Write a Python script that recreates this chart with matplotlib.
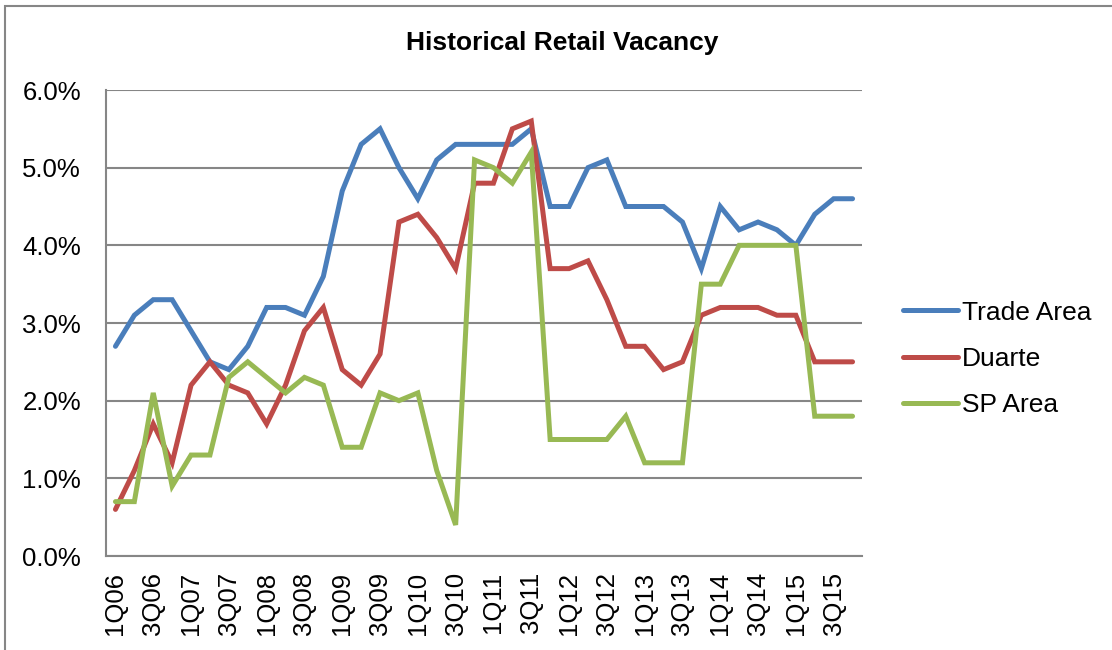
import matplotlib
matplotlib.use("Agg")
import matplotlib.pyplot as plt
from matplotlib.patches import Rectangle
from matplotlib.ticker import FuncFormatter

plt.rcParams['font.family'] = ['Liberation Sans', 'DejaVu Sans']

quarters = [f"{q}Q{y:02d}" for y in range(6, 16) for q in range(1, 5)]

trade_area = [2.7, 3.1, 3.3, 3.3, 2.9, 2.5, 2.4, 2.7, 3.2, 3.2,
              3.1, 3.6, 4.7, 5.3, 5.5, 5.0, 4.6, 5.1, 5.3, 5.3,
              5.3, 5.3, 5.5, 4.5, 4.5, 5.0, 5.1, 4.5, 4.5, 4.5,
              4.3, 3.7, 4.5, 4.2, 4.3, 4.2, 4.0, 4.4, 4.6, 4.6]
duarte = [0.6, 1.1, 1.7, 1.2, 2.2, 2.5, 2.2, 2.1, 1.7, 2.2,
          2.9, 3.2, 2.4, 2.2, 2.6, 4.3, 4.4, 4.1, 3.7, 4.8,
          4.8, 5.5, 5.6, 3.7, 3.7, 3.8, 3.3, 2.7, 2.7, 2.4,
          2.5, 3.1, 3.2, 3.2, 3.2, 3.1, 3.1, 2.5, 2.5, 2.5]
sp_area = [0.7, 0.7, 2.1, 0.9, 1.3, 1.3, 2.3, 2.5, 2.3, 2.1,
           2.3, 2.2, 1.4, 1.4, 2.1, 2.0, 2.1, 1.1, 0.4, 5.1,
           5.0, 4.8, 5.2, 1.5, 1.5, 1.5, 1.5, 1.8, 1.2, 1.2,
           1.2, 3.5, 3.5, 4.0, 4.0, 4.0, 4.0, 1.8, 1.8, 1.8]

series = [("Trade Area", trade_area, "#4A7EBB"),
          ("Duarte", duarte, "#BE4B48"),
          ("SP Area", sp_area, "#98B954")]

W, H = 1112, 650
fig = plt.figure(figsize=(W / 100, H / 100), dpi=100)
ax = fig.add_axes([106 / W, 1 - 556 / H, (862 - 106) / W, (556 - 90) / H])

x = list(range(len(quarters)))
for name, vals, col in series:
    ax.plot(x, vals, color=col, lw=3.6, label=name, solid_joinstyle='miter',
            solid_capstyle='round')

ax.set_xlim(-0.5, len(quarters) - 0.5)
ax.set_ylim(0, 6)
ax.set_yticks([0, 1, 2, 3, 4, 5, 6])
ax.yaxis.set_major_formatter(FuncFormatter(lambda v, p: f"{v:.1f}%"))
ax.set_xticks(x[::2])
ax.set_xticklabels(quarters[::2], rotation=90, fontsize=18.5)
ax.tick_params(axis='y', labelsize=18.5, length=0, pad=18)
ax.tick_params(axis='x', length=0, pad=11.5)
ax.grid(axis='y', color='#868686', lw=1.5)
ax.set_axisbelow(True)
for s in ['top', 'right']:
    ax.spines[s].set_visible(False)
for s in ['left', 'bottom']:
    ax.spines[s].set_color('#868686')
    ax.spines[s].set_linewidth(1.5)

leg = fig.legend(loc='upper left', bbox_to_anchor=(892 / W, 1 - 290 / H),
                 frameon=False, fontsize=19, handlelength=2.1,
                 handletextpad=0.15, labelspacing=0.85, borderaxespad=0)

fig.text(562 / W, 1 - 43 / H, "Historical Retail Vacancy", ha='center',
         va='center', fontsize=19, fontweight='bold')

fig.patches.append(Rectangle((5 / W, -0.1), 1.2, 1 - 6 / H + 0.1,
                             transform=fig.transFigure, fill=False,
                             edgecolor='#868686', lw=1.5))

fig.savefig("out.png", dpi=100)
